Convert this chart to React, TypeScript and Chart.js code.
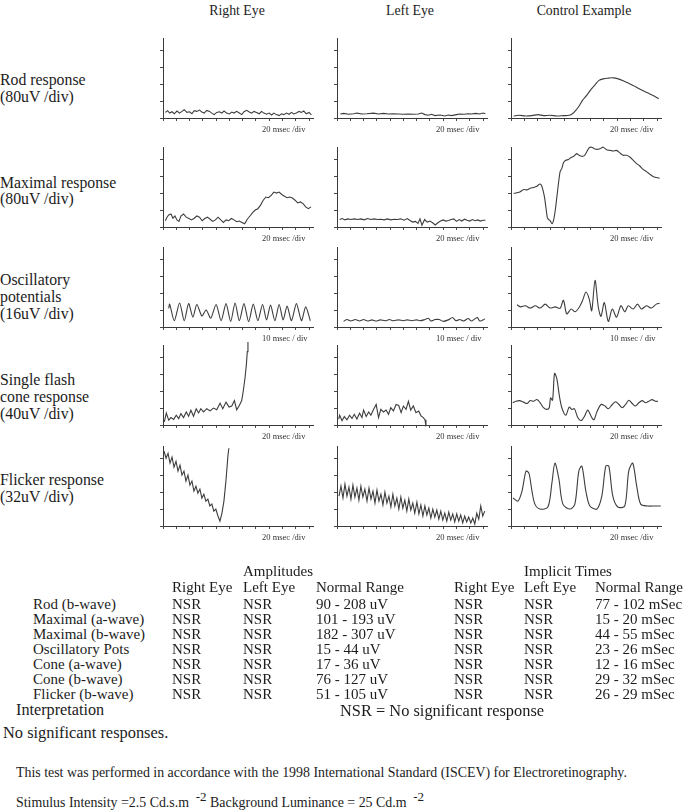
import React, { useEffect, useRef } from "react";
import { Chart, registerables } from "chart.js";

Chart.register(...registerables);

// Each trace: [time (div), amplitude (div)]
const rodRight = [[0.18,0.33],[0.35,0.43],[0.5,0.29],[0.68,0.37],[0.85,0.25],[1.05,0.41],[1.25,0.29],[1.43,0.39],[1.6,0.49],[1.8,0.33],[2.0,0.37],[2.18,0.25],[2.35,0.43],[2.55,0.39],[2.75,0.47],[2.93,0.35],[3.1,0.29],[3.3,0.45],[3.5,0.39],[3.68,0.29],[3.85,0.2],[4.05,0.33],[4.25,0.37],[4.43,0.29],[4.6,0.41],[4.8,0.29],[5.0,0.24],[5.18,0.35],[5.35,0.29],[5.55,0.39],[5.75,0.29],[5.93,0.2],[6.1,0.37],[6.3,0.45],[6.5,0.35],[6.68,0.29],[6.85,0.39],[7.05,0.33],[7.25,0.25],[7.43,0.39],[7.6,0.29],[7.8,0.22],[8.0,0.29],[8.18,0.18],[8.35,0.29],[8.55,0.2],[8.75,0.14],[8.93,0.25],[9.1,0.2],[9.3,0.29],[9.5,0.22],[9.68,0.33],[9.85,0.24],[10.05,0.29],[10.25,0.39],[10.43,0.33],[10.6,0.41],[10.8,0.25],[11.0,0.33],[11.18,0.18]];
const rodLeft = [[0.25,0.24],[0.5,0.27],[0.88,0.22],[1.25,0.25],[1.5,0.29],[1.88,0.24],[2.25,0.25],[2.75,0.29],[3.13,0.24],[3.5,0.27],[3.88,0.24],[4.25,0.25],[4.63,0.24],[5.0,0.22],[5.38,0.24],[5.75,0.22],[6.13,0.24],[6.38,0.29],[6.63,0.2],[6.88,0.16],[7.13,0.22],[7.38,0.14],[7.75,0.18],[8.13,0.12],[8.38,0.18],[8.63,0.14],[9.0,0.2],[9.25,0.24],[9.55,0.22],[9.88,0.25],[10.13,0.24],[10.45,0.27],[10.75,0.24],[11.0,0.29],[11.18,0.25]];
const rodControl = [[0.2,0.12],[0.58,0.16],[1.08,0.12],[1.58,0.14],[2.03,0.2],[2.45,0.14],[2.95,0.16],[3.45,0.12],[3.95,0.14],[4.38,0.16],[4.63,0.25],[4.88,0.45],[5.13,0.71],[5.38,1.04],[5.7,1.33],[6.03,1.69],[6.33,1.96],[6.63,2.22],[6.95,2.31],[7.33,2.35],[7.7,2.37],[8.08,2.31],[8.45,2.2],[8.83,2.06],[9.2,1.92],[9.58,1.76],[9.95,1.61],[10.33,1.47],[10.7,1.33],[11.13,1.14]];

const maxRight = [[0.18,0.37],[0.3,0.58],[0.43,0.71],[0.6,0.77],[0.75,0.52],[0.9,0.65],[1.05,0.42],[1.2,0.33],[1.35,0.65],[1.55,0.77],[1.75,0.58],[1.95,0.5],[2.15,0.42],[2.35,0.52],[2.55,0.65],[2.75,0.58],[2.95,0.37],[3.15,0.5],[3.35,0.58],[3.55,0.46],[3.75,0.33],[3.95,0.42],[4.15,0.58],[4.35,0.42],[4.55,0.27],[4.75,0.42],[4.95,0.37],[5.15,0.5],[5.35,0.42],[5.55,0.31],[5.75,0.35],[5.95,0.27],[6.15,0.19],[6.35,0.46],[6.55,0.65],[6.75,0.85],[6.95,1.0],[7.15,1.08],[7.35,1.29],[7.55,1.58],[7.75,1.77],[7.95,1.73],[8.15,1.87],[8.35,2.06],[8.55,2.0],[8.75,2.06],[8.95,1.92],[9.15,1.81],[9.35,1.73],[9.55,1.77],[9.75,1.71],[9.95,1.58],[10.15,1.42],[10.35,1.48],[10.55,1.38],[10.75,1.19],[10.95,1.08],[11.15,1.19]];
const maxLeft = [[0.2,0.44],[0.4,0.5],[0.6,0.42],[0.8,0.48],[1.05,0.44],[1.3,0.48],[1.55,0.44],[1.8,0.48],[2.05,0.42],[2.3,0.5],[2.55,0.44],[2.8,0.48],[3.05,0.44],[3.3,0.46],[3.55,0.42],[3.8,0.48],[4.05,0.42],[4.3,0.46],[4.55,0.44],[4.8,0.48],[5.05,0.4],[5.3,0.5],[5.5,0.38],[5.7,0.29],[5.9,0.33],[6.1,0.21],[6.25,0.48],[6.4,0.1],[6.6,0.44],[6.8,0.29],[7.0,0.35],[7.2,0.25],[7.4,0.12],[7.6,0.25],[7.8,0.35],[8.0,0.42],[8.2,0.35],[8.4,0.38],[8.6,0.44],[8.8,0.48],[9.0,0.33],[9.2,0.44],[9.4,0.35],[9.6,0.46],[9.8,0.4],[10.0,0.35],[10.2,0.44],[10.4,0.37],[10.6,0.42],[10.8,0.35],[11.0,0.4],[11.18,0.4]];
const maxControl = [[0.2,1.98],[0.45,2.02],[0.7,2.08],[0.95,2.21],[1.2,2.19],[1.45,2.29],[1.7,2.33],[1.95,2.4],[2.15,2.54],[2.28,2.48],[2.4,2.21],[2.53,1.73],[2.63,1.15],[2.73,0.58],[2.83,0.44],[2.95,0.38],[3.08,0.19],[3.2,0.38],[3.33,0.96],[3.45,1.73],[3.58,2.6],[3.7,3.27],[3.83,3.46],[3.95,3.79],[4.13,3.94],[4.33,3.98],[4.53,4.1],[4.73,4.17],[4.95,4.33],[5.13,4.23],[5.33,4.17],[5.53,4.21],[5.7,4.42],[5.88,4.67],[6.08,4.71],[6.28,4.62],[6.48,4.58],[6.7,4.62],[6.95,4.71],[7.2,4.56],[7.45,4.52],[7.7,4.48],[7.95,4.52],[8.2,4.37],[8.45,4.23],[8.7,4.23],[8.95,4.13],[9.2,3.94],[9.45,3.75],[9.7,3.6],[9.95,3.4],[10.2,3.27],[10.45,3.12],[10.7,2.98],[10.95,2.92],[11.2,2.88]];

const opRight = [[0.43,1.1],[0.5,1.35],[0.85,0.37],[1.25,1.42],[1.6,0.37],[1.93,1.38],[2.25,0.58],[2.55,1.33],[2.93,0.65],[3.25,1.0],[3.6,0.52],[4.0,1.33],[4.38,0.37],[4.75,1.38],[5.1,0.33],[5.43,1.42],[5.75,0.37],[6.1,1.38],[6.45,0.31],[6.8,1.35],[7.15,0.37],[7.5,1.33],[7.8,0.42],[8.1,1.29],[8.43,0.37],[8.75,1.33],[9.05,0.42],[9.35,1.23],[9.68,0.37],[10.05,1.38],[10.43,0.37],[10.75,1.19],[11.1,0.37]];
const opLeft = [[0.5,0.33],[0.75,0.44],[1.05,0.35],[1.38,0.44],[1.7,0.35],[2.0,0.44],[2.3,0.35],[2.63,0.42],[2.95,0.35],[3.25,0.42],[3.63,0.37],[3.95,0.44],[4.25,0.37],[4.63,0.42],[5.0,0.37],[5.3,0.42],[5.63,0.37],[6.0,0.42],[6.25,0.37],[6.55,0.42],[6.88,0.52],[7.08,0.35],[7.38,0.44],[7.7,0.44],[8.0,0.33],[8.38,0.42],[8.7,0.56],[8.95,0.37],[9.25,0.44],[9.55,0.35],[9.88,0.5],[10.13,0.35],[10.38,0.48],[10.58,0.56],[10.75,0.35],[11.0,0.42],[11.15,0.48]];
const opControl = [[0.45,1.31],[0.7,1.19],[1.08,1.25],[1.45,1.12],[1.83,1.25],[2.2,1.12],[2.58,1.35],[2.95,1.12],[3.33,1.19],[3.7,1.1],[3.95,1.58],[4.2,0.77],[4.53,1.06],[4.83,0.9],[5.13,1.15],[5.38,1.54],[5.65,2.06],[5.9,1.63],[6.08,0.96],[6.33,2.75],[6.58,1.15],[6.78,0.63],[7.03,1.44],[7.33,0.33],[7.63,1.06],[7.95,0.58],[8.28,1.25],[8.58,0.9],[8.83,1.25],[9.2,1.06],[9.53,1.35],[9.83,1.06],[10.2,1.25],[10.58,1.12],[10.95,1.35],[11.2,1.4]];

const coneRight = [[0.1,0.19],[0.25,0.71],[0.43,0.29],[0.6,0.44],[0.8,0.33],[1.0,0.58],[1.18,0.38],[1.35,0.67],[1.55,0.44],[1.75,0.77],[1.93,0.52],[2.1,0.87],[2.3,0.52],[2.5,0.96],[2.68,0.71],[2.85,0.96],[3.05,0.77],[3.3,0.96],[3.55,0.83],[3.8,1.0],[4.05,0.9],[4.3,1.29],[4.5,0.96],[4.75,1.35],[4.98,1.06],[5.18,1.12],[5.38,1.44],[5.55,0.9],[5.75,1.15],[5.93,1.44],[6.05,2.02],[6.18,2.79],[6.28,3.56],[6.35,4.33],[6.4,4.9]];
const coneLeft = [[0.13,0.35],[0.2,0.58],[0.38,0.25],[0.55,0.5],[0.75,0.31],[0.95,0.58],[1.13,0.38],[1.3,0.63],[1.5,0.35],[1.7,0.69],[1.88,0.44],[2.0,0.88],[2.2,0.5],[2.38,0.77],[2.55,0.58],[2.75,0.92],[2.95,1.21],[3.13,0.44],[3.3,0.92],[3.5,0.77],[3.7,0.88],[3.88,0.63],[4.05,1.02],[4.25,0.83],[4.45,1.21],[4.65,1.15],[4.83,0.73],[5.0,1.12],[5.2,0.92],[5.38,1.4],[5.55,0.88],[5.75,1.12],[5.95,0.73],[6.15,0.83],[6.33,0.54],[6.5,0.44],[6.63,0.31],[6.7,-0.08]];
const coneControl = [[0.13,1.31],[0.38,1.4],[0.63,1.44],[0.95,1.35],[1.2,1.27],[1.45,1.44],[1.7,1.4],[1.95,1.5],[2.2,1.31],[2.45,1.02],[2.7,0.92],[2.88,1.02],[2.98,1.6],[3.13,1.46],[3.28,3.04],[3.45,2.75],[3.63,1.79],[3.83,1.02],[4.13,0.58],[4.38,1.06],[4.58,0.92],[4.78,0.96],[5.03,0.44],[5.28,0.25],[5.53,0.5],[5.78,0.88],[6.08,0.44],[6.25,0.31],[6.45,0.73],[6.78,1.21],[7.08,1.12],[7.33,0.96],[7.63,1.21],[7.88,1.37],[8.13,1.21],[8.38,1.02],[8.63,1.21],[8.88,1.46],[9.13,1.27],[9.38,1.12],[9.63,1.31],[9.88,1.44],[10.13,1.31],[10.38,1.4],[10.63,1.5],[10.88,1.4],[11.08,1.4]];

const flickerRight = [[0.08,4.41],[0.23,4.0],[0.38,4.29],[0.53,3.71],[0.68,4.06],[0.83,3.47],[0.98,3.82],[1.13,3.24],[1.28,3.59],[1.43,3.0],[1.58,3.24],[1.73,2.65],[1.88,3.0],[2.03,2.41],[2.18,2.65],[2.33,2.06],[2.48,2.35],[2.63,1.94],[2.78,2.18],[2.93,1.65],[3.08,1.88],[3.23,1.47],[3.38,1.59],[3.53,1.18],[3.68,1.29],[3.83,0.88],[3.98,1.0],[4.14,0.59],[4.29,0.29],[4.44,0.76],[4.59,1.47],[4.74,2.65],[4.89,4.12],[4.96,4.59]];
const flickerLeft = [[0.15,1.76],[0.3,2.35],[0.45,1.65],[0.6,2.47],[0.75,1.76],[0.9,2.29],[1.05,1.59],[1.2,2.41],[1.35,1.71],[1.5,2.24],[1.65,1.53],[1.8,2.35],[1.95,1.71],[2.1,2.18],[2.26,1.47],[2.41,2.24],[2.56,1.59],[2.71,2.06],[2.86,1.35],[3.01,2.12],[3.16,1.47],[3.31,1.88],[3.46,1.24],[3.61,2.0],[3.76,1.35],[3.91,1.76],[4.06,1.12],[4.21,1.88],[4.36,1.18],[4.51,1.65],[4.66,1.0],[4.81,1.71],[4.96,1.06],[5.11,1.53],[5.26,0.88],[5.41,1.59],[5.56,0.94],[5.71,1.35],[5.86,0.76],[6.02,1.41],[6.17,0.71],[6.32,1.24],[6.47,0.59],[6.62,1.18],[6.77,0.65],[6.92,1.06],[7.07,0.47],[7.22,1.0],[7.37,0.53],[7.52,0.94],[7.67,0.41],[7.82,0.88],[7.97,0.35],[8.12,0.76],[8.27,0.29],[8.42,0.82],[8.57,0.35],[8.72,0.71],[8.87,0.24],[9.02,0.71],[9.17,0.29],[9.32,0.65],[9.47,0.18],[9.62,0.59],[9.77,0.24],[9.92,0.53],[10.08,0.18],[10.23,0.47],[10.38,0.12],[10.53,0.76],[10.68,0.41],[10.83,1.18],[10.98,0.59],[11.13,0.88]];
const flickerControl = [[0.15,1.65],[0.53,1.47],[0.83,2.06],[1.13,3.24],[1.35,3.12],[1.58,2.06],[1.8,1.29],[2.18,1.0],[2.78,1.12],[3.08,2.53],[3.31,3.71],[3.61,2.76],[3.91,1.29],[4.44,1.0],[4.81,1.29],[5.11,3.24],[5.34,3.53],[5.64,2.06],[5.94,1.18],[6.47,1.0],[6.84,1.76],[7.14,3.53],[7.37,3.53],[7.67,1.76],[8.05,1.12],[8.57,1.18],[8.87,3.24],[9.17,3.71],[9.47,2.35],[9.77,1.29],[10.3,1.18],[10.83,1.18],[11.28,1.18]];

const columnTitles = ["Right Eye", "Left Eye", "Control Example"];
const rowLabels = [
  ["Rod response", "(80uV /div)"],
  ["Maximal response", "(80uV /div)"],
  ["Oscillatory", "potentials", "(16uV /div)"],
  ["Single flash", "cone response", "(40uV /div)"],
  ["Flicker response", "(32uV /div)"],
];
const timeBaseLabels = ["20 msec /div", "20 msec /div", "10 msec / div", "20 msec /div", "20 msec /div"];
const traces = [
  [rodRight, rodLeft, rodControl],
  [maxRight, maxLeft, maxControl],
  [opRight, opLeft, opControl],
  [coneRight, coneLeft, coneControl],
  [flickerRight, flickerLeft, flickerControl],
];
const smoothRows = [
  [0, 0, 0.3],
  [0, 0, 0.2],
  [0.25, 0.2, 0.3],
  [0, 0, 0.3],
  [0, 0, 0.3],
];

const tableRows = ["Rod (b-wave)", "Maximal (a-wave)", "Maximal (b-wave)", "Oscillatory Pots", "Cone (a-wave)", "Cone (b-wave)", "Flicker (b-wave)"];
const amplitudeRanges = ["90 - 208 uV", "101 - 193 uV", "182 - 307 uV", "15 - 44 uV", "17 - 36 uV", "76 - 127 uV", "51 - 105 uV"];
const timeRanges = ["77 - 102 mSec", "15 - 20 mSec", "44 - 55 mSec", "23 - 26 mSec", "12 - 16 mSec", "29 - 32 mSec", "26 - 29 mSec"];
const rightEyeAmp = ["NSR", "NSR", "NSR", "NSR", "NSR", "NSR", "NSR"];
const leftEyeAmp = ["NSR", "NSR", "NSR", "NSR", "NSR", "NSR", "NSR"];
const rightEyeTime = ["NSR", "NSR", "NSR", "NSR", "NSR", "NSR", "NSR"];
const leftEyeTime = ["NSR", "NSR", "NSR", "NSR", "NSR", "NSR", "NSR"];

const X_MAX = 11.3;
const Y_MAX = 4.72;

const COL_X = [163, 337, 511];
const ROW_TOP = [38, 147, 247, 345, 446];
const AXIS_W = 150;
const AXIS_H = 80;
const PAD_L = 10, PAD_T = 4, PAD_B = 10, PAD_R = 3;

const SERIF = "'Liberation Serif', 'Times New Roman', serif";
const INK = "#1c1c1c";

function Panel({ points, tension, left, top }: { points: number[][]; tension: number; left: number; top: number }) {
  const ref = useRef<HTMLCanvasElement | null>(null);
  useEffect(() => {
    if (!ref.current) return;
    const axisStyle = {
      grid: { display: true, drawOnChartArea: false, drawTicks: true, tickLength: 3, color: "#4a4a4a", lineWidth: 1 },
      border: { display: true, color: "#3a3a3a", width: 1 },
    };
    const chart = new Chart(ref.current, {
      type: "line",
      data: {
        datasets: [
          {
            data: points.map(([x, y]) => ({ x, y })),
            borderColor: "#3d3d3d",
            borderWidth: 1.1,
            pointRadius: 0,
            tension,
            clip: false as any,
            fill: false,
          },
        ],
      },
      options: {
        animation: false,
        responsive: false,
        devicePixelRatio: 1,
        events: [],
        layout: { padding: { left: 0, right: PAD_R, top: PAD_T, bottom: 0 } },
        plugins: { legend: { display: false }, tooltip: { enabled: false } },
        scales: {
          x: {
            type: "linear",
            min: 0,
            max: X_MAX,
            afterFit: (s: any) => { s.height = PAD_B; },
            ticks: { display: false, stepSize: 1, includeBounds: false },
            ...axisStyle,
          },
          y: {
            type: "linear",
            min: 0,
            max: Y_MAX,
            afterFit: (s: any) => { s.width = PAD_L; },
            ticks: { display: false, stepSize: 1, includeBounds: false },
            ...axisStyle,
          },
        },
      } as any,
    });
    return () => chart.destroy();
  }, [points, tension]);
  const w = PAD_L + AXIS_W + PAD_R;
  const h = PAD_T + AXIS_H + PAD_B;
  return (
    <canvas
      ref={ref}
      width={w}
      height={h}
      style={{ position: "absolute", left: left - PAD_L, top: top - PAD_T, width: w, height: h }}
    />
  );
}

function Txt({ x, y, size, children, center }: { x: number; y: number; size: number; children: any; center?: boolean }) {
  return (
    <div
      style={{
        position: "absolute",
        left: center ? x - 150 : x,
        width: center ? 300 : undefined,
        textAlign: center ? "center" : "left",
        top: y - size * 0.6,
        fontSize: size,
        lineHeight: `${size * 1.2}px`,
        fontFamily: SERIF,
        color: INK,
        whiteSpace: "nowrap",
      }}
    >
      {children}
    </div>
  );
}

export default function App() {
  const colCenters = [237, 410, 584];
  const labelTops = [
    [80, 97],
    [183, 199],
    [280, 297, 314],
    [380, 397, 414],
    [480, 497],
  ];
  const TS = 15;
  const LS = 15.8;
  const FS = 13.9;
  return (
    <div style={{ position: "absolute", left: 0, top: 0, width: 685, height: 812, background: "#fff", overflow: "hidden" }}>
      {columnTitles.map((t, i) => (
        <Txt key={t} x={colCenters[i]} y={11} size={13.8} center>{t}</Txt>
      ))}
      {rowLabels.map((lines, r) =>
        lines.map((l, k) => (
          <Txt key={`${r}-${k}`} x={0} y={labelTops[r][k]} size={LS}>{l}</Txt>
        ))
      )}
      {traces.map((row, r) =>
        row.map((pts, c) => (
          <React.Fragment key={`${r}-${c}`}>
            <Panel points={pts} tension={smoothRows[r][c]} left={COL_X[c]} top={ROW_TOP[r]} />
            <div
              style={{
                position: "absolute",
                left: COL_X[c] + 99,
                top: ROW_TOP[r] + AXIS_H + 6,
                fontSize: 8.5,
                fontFamily: SERIF,
                color: "#333",
                whiteSpace: "nowrap",
                lineHeight: "10px",
              }}
            >
              {timeBaseLabels[r]}
            </div>
          </React.Fragment>
        ))
      )}

      <Txt x={243} y={571} size={TS}>Amplitudes</Txt>
      <Txt x={524} y={571} size={TS}>Implicit Times</Txt>
      <Txt x={172} y={587} size={TS}>Right Eye</Txt>
      <Txt x={243} y={587} size={TS}>Left Eye</Txt>
      <Txt x={316} y={587} size={TS}>Normal Range</Txt>
      <Txt x={454} y={587} size={TS}>Right Eye</Txt>
      <Txt x={524} y={587} size={TS}>Left Eye</Txt>
      <Txt x={595} y={587} size={TS}>Normal Range</Txt>
      {tableRows.map((name, i) => {
        const y = 604 + i * 15;
        return (
          <React.Fragment key={name}>
            <Txt x={33} y={y} size={TS}>{name}</Txt>
            <Txt x={172} y={y} size={TS}>{rightEyeAmp[i]}</Txt>
            <Txt x={243} y={y} size={TS}>{leftEyeAmp[i]}</Txt>
            <Txt x={316} y={y} size={TS}>{amplitudeRanges[i]}</Txt>
            <Txt x={454} y={y} size={TS}>{rightEyeTime[i]}</Txt>
            <Txt x={524} y={y} size={TS}>{leftEyeTime[i]}</Txt>
            <Txt x={595} y={y} size={TS}>{timeRanges[i]}</Txt>
          </React.Fragment>
        );
      })}
      <Txt x={16} y={711} size={16.2}>Interpretation</Txt>
      <Txt x={340} y={711} size={16.4}>NSR = No significant response</Txt>
      <Txt x={3} y={733} size={16.4}>No significant responses.</Txt>
      <Txt x={16} y={773} size={FS}>
        This test was performed in accordance with the 1998 International Standard (ISCEV) for Electroretinography.
      </Txt>
      <Txt x={16} y={797} size={FS}>
        Stimulus Intensity =2.5 Cd.s.m <sup style={{ fontSize: 13, verticalAlign: "6px" }}>&nbsp;-2</sup> Background Luminance = 25 Cd.m <sup style={{ fontSize: 13, verticalAlign: "6px" }}>&nbsp;-2</sup>
      </Txt>
    </div>
  );
}
